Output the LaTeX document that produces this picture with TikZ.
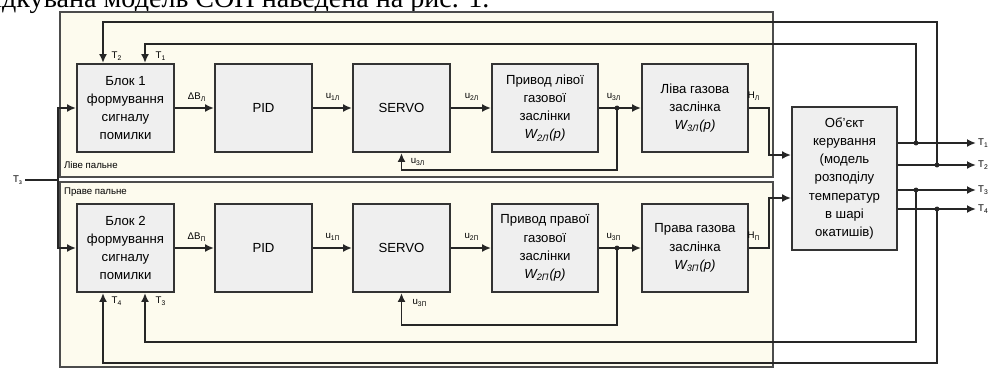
\documentclass[tikz,border=0pt]{standalone}
\usepackage{fontspec}
\setmainfont{Liberation Sans}
\newfontfamily\docfont{Liberation Serif}
\usetikzlibrary{arrows.meta}

\definecolor{panelbg}{HTML}{FDFBEE}
\definecolor{blkbg}{HTML}{EFEFEF}

\tikzset{
  blk/.style={draw=black!80, fill=blkbg, line width=1.1pt, minimum width=1.94cm,
    minimum height=1.76cm, align=center, inner sep=1pt,
    font=\fontsize{7.5}{10.4}\selectfont},
  wideblk/.style={blk, minimum width=2.12cm},
  conn/.style={line width=1.1pt, draw=black!85, -{Latex[length=1.8mm,width=1.6mm]}},
  wire/.style={line width=1.1pt, draw=black!85},
  lbl/.style={font=\fontsize{5.5}{6}\selectfont, inner sep=1pt},
  panel/.style={draw=black!70, line width=1pt, fill=panelbg},
  dot/.style={fill=black!85},
}

\begin{document}
\begin{tikzpicture}[x=0.02cm,y=-0.02cm]
    \useasboundingbox (0,0) rectangle (991,369);

    % text line of the page, cut at the top
    \node[anchor=base west, inner sep=0, font=\docfont\fontsize{16}{18}\selectfont] (pagetxt) at (-6,7) {ідкувана модель СОН наведена на рис. 1.};

    % two channels
    \draw[panel] (60,12) rectangle (773,177);
    \draw[panel] (60,182) rectangle (773,367);
    \node[lbl, anchor=west] (lpan) at (62,165) {Ліве пальне};
    \node[lbl, anchor=west] (rpan) at (62,192) {Праве пальне};

    % left channel
    \node[blk] (b1) at (125.5,108) {Блок 1\\формування\\сигналу\\помилки};
    \node[blk] (pid1) at (263.5,108) {PID};
    \node[blk] (srv1) at (401.5,108) {SERVO};
    \node[wideblk] (drv1) at (545,108) {Привод лівої\\газової\\заслінки\\{\itshape W\textsubscript{2Л}(p)}};
    \node[wideblk] (flp1) at (695,108) {Ліва газова\\заслінка\\{\itshape W\textsubscript{3Л}(p)}};

    % right channel
    \node[blk] (b2) at (125.5,248) {Блок 2\\формування\\сигналу\\помилки};
    \node[blk] (pid2) at (263.5,248) {PID};
    \node[blk] (srv2) at (401.5,248) {SERVO};
    \node[wideblk] (drv2) at (545,248) {Привод правої\\газової\\заслінки\\{\itshape W\textsubscript{2П}(p)}};
    \node[wideblk] (flp2) at (695,248) {Права газова\\заслінка\\{\itshape W\textsubscript{3П}(p)}};

    % plant
    \node[blk, minimum width=2.1cm, minimum height=2.86cm] (obj) at (844.5,178.5) {Об’єкт\\керування\\(модель\\розподілу\\температур\\в шарі\\окатишів)};

    % forward paths
    \draw[conn] (b1) -- (pid1);
    \draw[conn] (pid1) -- (srv1);
    \draw[conn] (srv1) -- (drv1);
    \draw[conn] (drv1) -- (flp1);
    \draw[conn] (b2) -- (pid2);
    \draw[conn] (pid2) -- (srv2);
    \draw[conn] (srv2) -- (drv2);
    \draw[conn] (drv2) -- (flp2);
    \node[lbl] (dbl) at (197,97) {ΔВ\textsubscript{Л}};
    \node[lbl] (u1l) at (333,97) {u\textsubscript{1Л}};
    \node[lbl] (u2l) at (472,97) {u\textsubscript{2Л}};
    \node[lbl] (u3l) at (614,97) {u\textsubscript{3Л}};
    \node[lbl] (hl) at (754,96) {Н\textsubscript{Л}};
    \node[lbl] (dbp) at (197,237) {ΔВ\textsubscript{П}};
    \node[lbl] (u1p) at (333,237) {u\textsubscript{1П}};
    \node[lbl] (u2p) at (472,237) {u\textsubscript{2П}};
    \node[lbl] (u3p) at (614,237) {u\textsubscript{3П}};
    \node[lbl] (hp) at (754,236) {Н\textsubscript{П}};

    % set point
    \node[lbl] (tz) at (18,180) {T\textsubscript{з}};
    \coordinate (tzj) at (58,180);
    \draw[wire] (tz) -- (tzj);
    \draw[conn] (tzj) |- (b1);
    \draw[conn] (tzj) |- (b2);

    % servo feedback
    \coordinate (jl) at (617,108);
    \coordinate (jp) at (617,248);
    \draw[conn] (jl) -- ++(0,62) -| (srv1);
    \draw[conn] (jp) -- ++(0,77) -| (srv2);
    \fill[dot] (jl) circle (1.4pt);
    \fill[dot] (jp) circle (1.4pt);
    \node[lbl] (u3lf) at (418,162) {u\textsubscript{3Л}};
    \node[lbl] (u3pf) at (420,303) {u\textsubscript{3П}};

    % flaps to plant
    \draw[conn] (flp1.east) -- ++(20,0) |- ([yshift=0.47cm]obj.west);
    \draw[conn] (flp2.east) -- ++(20,0) |- ([yshift=-0.39cm]obj.west);

    % outputs
    \node[lbl, anchor=west] (t1o) at (976,143) {T\textsubscript{1}};
    \node[lbl, anchor=west] (t2o) at (976,165) {T\textsubscript{2}};
    \node[lbl, anchor=west] (t3o) at (976,190) {T\textsubscript{3}};
    \node[lbl, anchor=west] (t4o) at (976,209) {T\textsubscript{4}};
    \draw[conn] (obj.east |- t1o) -- (t1o);
    \draw[conn] (obj.east |- t2o) -- (t2o);
    \draw[conn] (obj.east |- t3o) -- (t3o);
    \draw[conn] (obj.east |- t4o) -- (t4o);

    % temperature feedback
    \coordinate (j1) at (916,143);
    \coordinate (j2) at (937,165);
    \coordinate (j3) at (916,190);
    \coordinate (j4) at (937,209);
    \draw[conn] (j1) -- ++(0,-99) -| ([xshift=0.39cm]b1.north);
    \draw[conn] (j2) -- ++(0,-143) -| ([xshift=-0.45cm]b1.north);
    \draw[conn] (j3) -- ++(0,152) -| ([xshift=0.39cm]b2.south);
    \draw[conn] (j4) -- ++(0,154) -| ([xshift=-0.45cm]b2.south);
    \foreach \j in {j1,j2,j3,j4} \fill[dot] (\j) circle (1.4pt);
    \node[lbl] (t2i) at (117,56) {T\textsubscript{2}};
    \node[lbl] (t1i) at (161,56) {T\textsubscript{1}};
    \node[lbl] (t4i) at (117,301) {T\textsubscript{4}};
    \node[lbl] (t3i) at (161,301) {T\textsubscript{3}};
\end{tikzpicture}
\end{document}
